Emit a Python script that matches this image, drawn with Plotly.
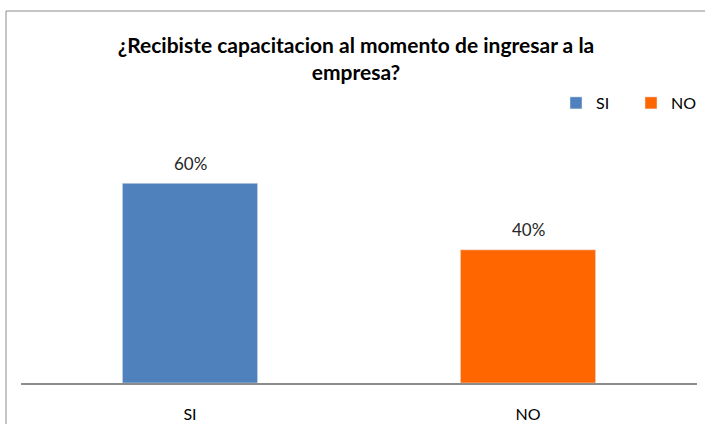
import plotly.graph_objects as go

categories = ["SI", "NO"]
values = [0.60, 0.40]
colors = ["#4F81BD", "#FF6600"]
value_labels = ["60%", "40%"]
title_text = "¿Recibiste capacitacion al momento de ingresar a la<br>empresa?"

FONT = "Lato, 'Open Sans', Arial, sans-serif"

fig = go.Figure()
for cat, val, col in zip(categories, values, colors):
    fig.add_trace(go.Bar(
        x=[cat], y=[val], name=cat, marker_color=col, width=0.4,
    ))

W, H = 705, 424
ml, mr, mt, mb = 21, 8, 150, 41
pw, ph = W - ml - mr, H - mt - mb

def px(x):
    return (x - ml) / pw

def py(y):
    return (H - mb - y) / ph

annotations = [
    dict(x=cat, y=val, xref="x", yref="y", text=lab, showarrow=False,
         xanchor="center", yanchor="middle", yshift=20,
         font=dict(size=17, color="#262626", family=FONT))
    for cat, val, lab in zip(categories, values, value_labels)
]

fig.update_layout(
    width=W, height=H,
    margin=dict(l=ml, r=mr, t=mt, b=mb, autoexpand=False),
    paper_bgcolor="white", plot_bgcolor="white",
    barmode="relative",
    font=dict(family=FONT, color="#000000"),
    title=dict(text="<b>" + title_text + "</b>", x=0.505, xanchor="center",
               y=1 - 53 / H, yanchor="top", yref="container",
               font=dict(size=21, family=FONT, color="#000000")),
    legend=dict(orientation="h", xref="container", yref="container",
                x=556 / W, xanchor="left", y=1 - 103 / H, yanchor="middle",
                font=dict(size=16, family=FONT, color="#000000"),
                itemwidth=30, entrywidth=30, entrywidthmode="pixels",
                traceorder="normal", bgcolor="rgba(0,0,0,0)"),
    xaxis=dict(showline=True, linecolor="#8C8C8C", linewidth=2, ticks="",
               tickfont=dict(size=16, family=FONT, color="#000000"),
               ticklabelstandoff=16, showgrid=False),
    yaxis=dict(range=[0, 0.7], visible=False, showgrid=False, zeroline=False),
    annotations=annotations,
    shapes=[dict(type="rect", xref="paper", yref="paper",
                 x0=px(6), x1=px(712), y0=py(430), y1=py(11),
                 line=dict(color="#8C8C8C", width=1), fillcolor="rgba(0,0,0,0)",
                 layer="below")],
)

fig.write_html("out.html", post_script="document.body.style.margin='0';",
               config={"displayModeBar": False})
